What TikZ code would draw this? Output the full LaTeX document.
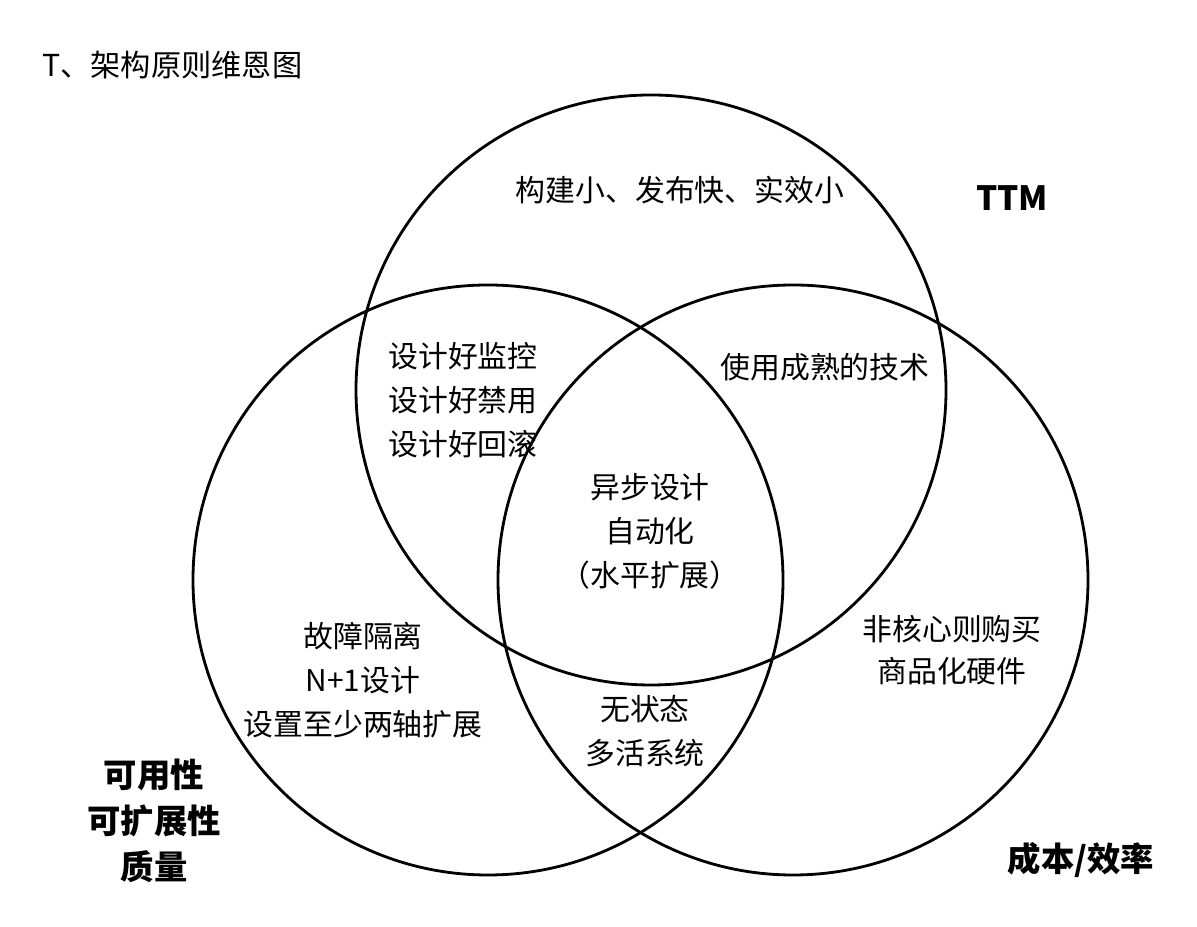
\documentclass[tikz,border=0pt]{standalone}
\usepackage{fontspec}
\setmainfont{Noto Sans CJK SC}
\usepackage{tikz}

\begin{document}
\begin{tikzpicture}[
    ring/.style={line width=1.6pt, black},
    note/.style={font=\fontsize{17}{25}\selectfont, align=center, inner sep=0pt},
    tag/.style={font=\fontsize{19}{26}\selectfont\bfseries, align=center, inner sep=0pt}
]
    % Page frame
    \useasboundingbox (0, 0) rectangle (23.94, 18.54);

    % Title
    \node[note, anchor=west, font=\fontsize{17.2}{20}\selectfont] (title) at (0.84, 17.24) {T、架构原则维恩图};

    % The three circles
    \draw[ring] (13.02, 10.74) circle (5.9);
    \draw[ring] (9.76, 6.94) circle (5.9);
    \draw[ring] (15.86, 6.94) circle (5.9);

    % Circle labels
    \node[tag] (ttm) at (20.24, 14.58) {TTM};
    \node[tag] (quality) at (3.08, 2.12) {可用性\\可扩展性\\质量};
    \node[tag] (cost) at (21.62, 1.34) {成本/效率};

    % Region texts
    \node[note] (fast) at (13.6, 14.74) {构建小、发布快、实效小};
    \node[note, anchor=west, align=left] (ops) at (7.76, 10.54) {设计好监控\\设计好禁用\\设计好回滚};
    \node[note] (mature) at (16.5, 11.2) {使用成熟的技术};
    \node[note] (core) at (13.0, 7.92) {异步设计\\自动化\\（水平扩展）};
    \node[note] (fault) at (7.26, 4.94) {故障隔离\\N+1设计\\设置至少两轴扩展};
    \node[note] (state) at (12.9, 3.92) {无状态\\多活系统};
    \node[note, font=\fontsize{17}{24}\selectfont] (buy) at (19.04, 5.54) {非核心则购买\\商品化硬件};
\end{tikzpicture}
\end{document}
